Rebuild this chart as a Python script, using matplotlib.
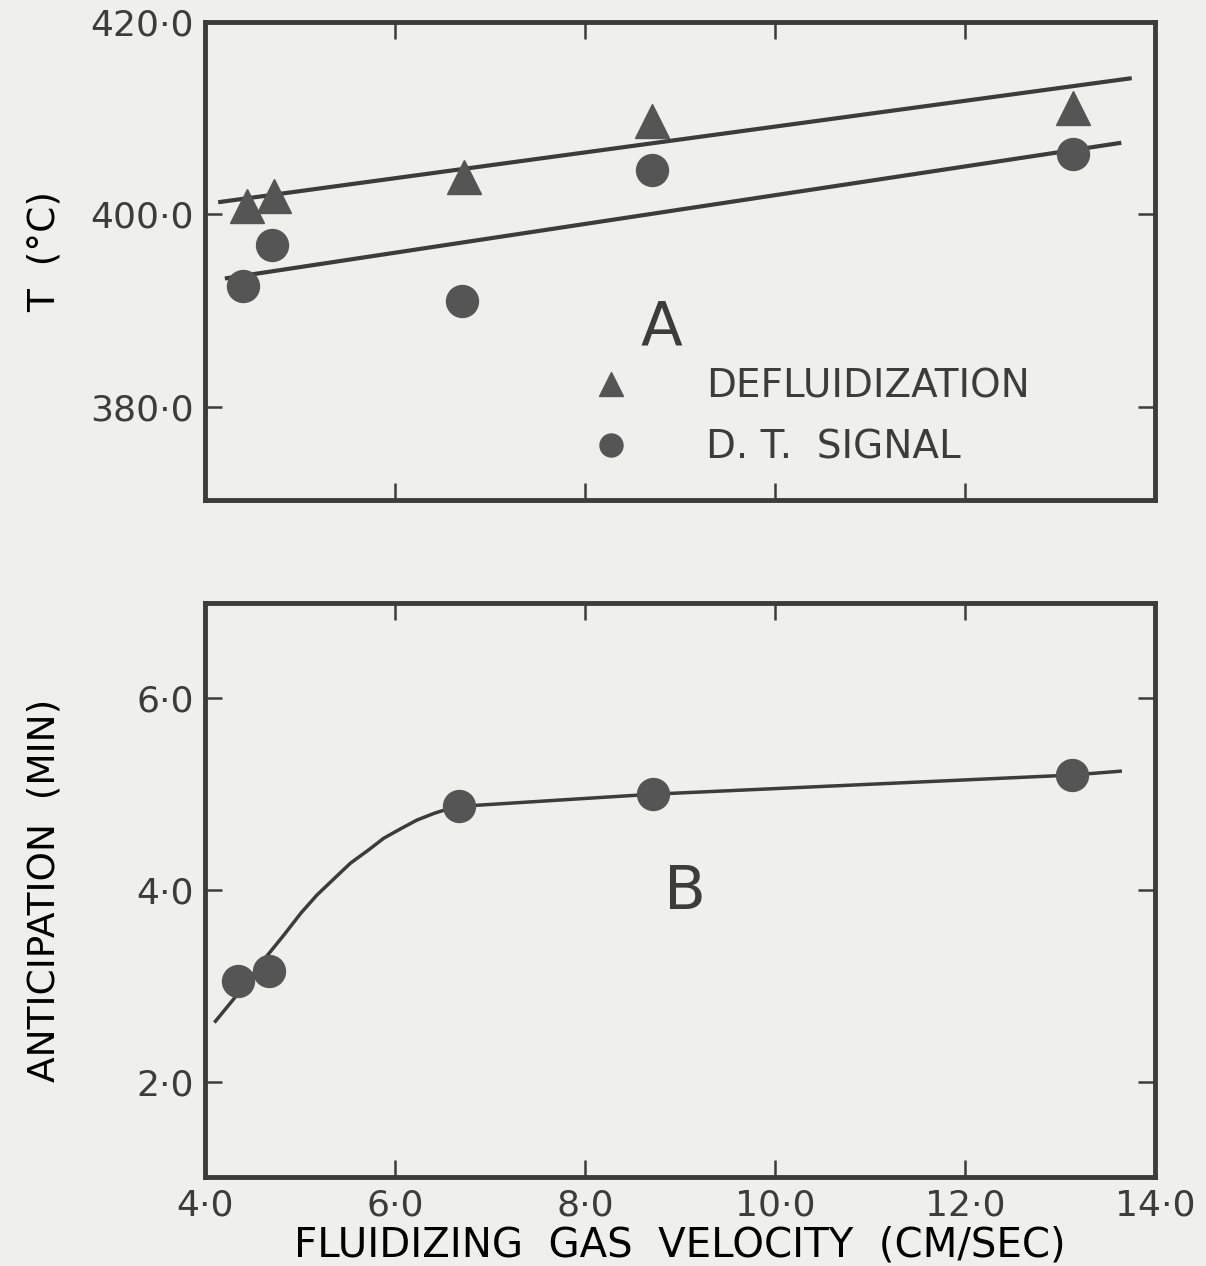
import matplotlib.pyplot as plt

# panel A: temperatures vs gas velocity
defl_x = [4.44, 4.73, 6.73, 8.70, 13.13]
defl_t = [400.9, 401.9, 403.9, 409.7, 411.0]
dt_x = [4.40, 4.70, 6.70, 8.70, 13.13]
dt_t = [392.6, 396.8, 391.0, 404.6, 406.3]

# straight lines drawn through each set (end points)
defl_line_x = [4.16, 13.73]
defl_line_t = [401.3, 414.1]
dt_line_x = [4.23, 13.62]
dt_line_t = [393.4, 407.4]

# panel B: anticipation time
ant_x = [4.35, 4.67, 6.67, 8.71, 13.12]
ant_min = [3.05, 3.15, 4.88, 5.00, 5.20]

# hand-drawn curve through the points
curve_x = [4.11, 4.30, 4.48, 4.65, 4.83, 5.01, 5.18, 5.36, 5.53, 5.71,
           5.88, 6.06, 6.23, 6.41, 6.63, 8.71, 13.12, 13.63]
curve_min = [2.63, 2.86, 3.09, 3.31, 3.53, 3.76, 3.95, 4.12, 4.28, 4.41,
             4.54, 4.64, 4.73, 4.80, 4.87, 5.00, 5.20, 5.24]

x_ticks = [4, 6, 8, 10, 12, 14]
x_labels = ["4·0", "6·0", "8·0", "10·0", "12·0", "14·0"]
a_ticks = [380, 400, 420]
a_labels = ["380·0", "400·0", "420·0"]
b_ticks = [2, 4, 6]
b_labels = ["2·0", "4·0", "6·0"]

ink = "#3c3c3c"
paper = "#efefed"

plt.rcParams["font.family"] = ["DejaVu Sans"]
plt.rcParams["text.color"] = ink

fig = plt.figure(figsize=(12.06, 12.66), dpi=100, facecolor=paper)
ax1 = fig.add_axes([0.170, 0.605, 0.788, 0.378])
ax2 = fig.add_axes([0.170, 0.070, 0.788, 0.454])

for ax in (ax1, ax2):
    ax.set_facecolor(paper)
    for s in ax.spines.values():
        s.set_linewidth(3.5)
        s.set_color(ink)
    ax.set_xlim(4, 14)
    ax.set_xticks(x_ticks)
    ax.tick_params(direction="in", length=12, width=1.8, color=ink,
                   top=True, right=True, labelsize=26, labelcolor=ink, pad=8)

# --- panel A ---
ax1.plot(defl_line_x, defl_line_t, color=ink, lw=3)
ax1.plot(dt_line_x, dt_line_t, color=ink, lw=3)
ax1.plot(defl_x, defl_t, "^", color="#555555", ms=24, ls="none",
         label="DEFLUIDIZATION")
ax1.plot(dt_x, dt_t, "o", color="#555555", ms=23, ls="none",
         label="D. T.  SIGNAL")
ax1.set_ylim(370.4, 419.8)
ax1.set_yticks(a_ticks)
ax1.set_yticklabels(a_labels)
ax1.set_xticklabels([])
ax1.set_ylabel("T  (°C)", fontsize=27)
ax1.yaxis.set_label_coords(-0.15, 0.52)
ax1.text(0.48, 0.36, "A", transform=ax1.transAxes, fontsize=44,
         ha="center", va="center", color=ink)
leg = ax1.legend(loc="upper left", bbox_to_anchor=(0.372, 0.35), frameon=False,
                 fontsize=28, handletextpad=2.0, labelspacing=0.6,
                 handlelength=0.9, markerscale=0.72)
for t in leg.get_texts():
    t.set_color(ink)

# --- panel B ---
ax2.plot(curve_x, curve_min, color=ink, lw=2.5)
ax2.plot(ant_x, ant_min, "o", color="#555555", ms=23, ls="none")
ax2.set_ylim(1.0, 7.0)
ax2.set_yticks(b_ticks)
ax2.set_yticklabels(b_labels)
ax2.set_xticklabels(x_labels)
ax2.set_ylabel("ANTICIPATION  (MIN)", fontsize=27)
ax2.yaxis.set_label_coords(-0.15, 0.50)
ax2.set_xlabel("FLUIDIZING  GAS  VELOCITY  (CM/SEC)", fontsize=29, labelpad=2)
ax2.text(0.505, 0.495, "B", transform=ax2.transAxes, fontsize=44,
         ha="center", va="center", color=ink)

fig.savefig("out.png", dpi=100, facecolor=paper)
